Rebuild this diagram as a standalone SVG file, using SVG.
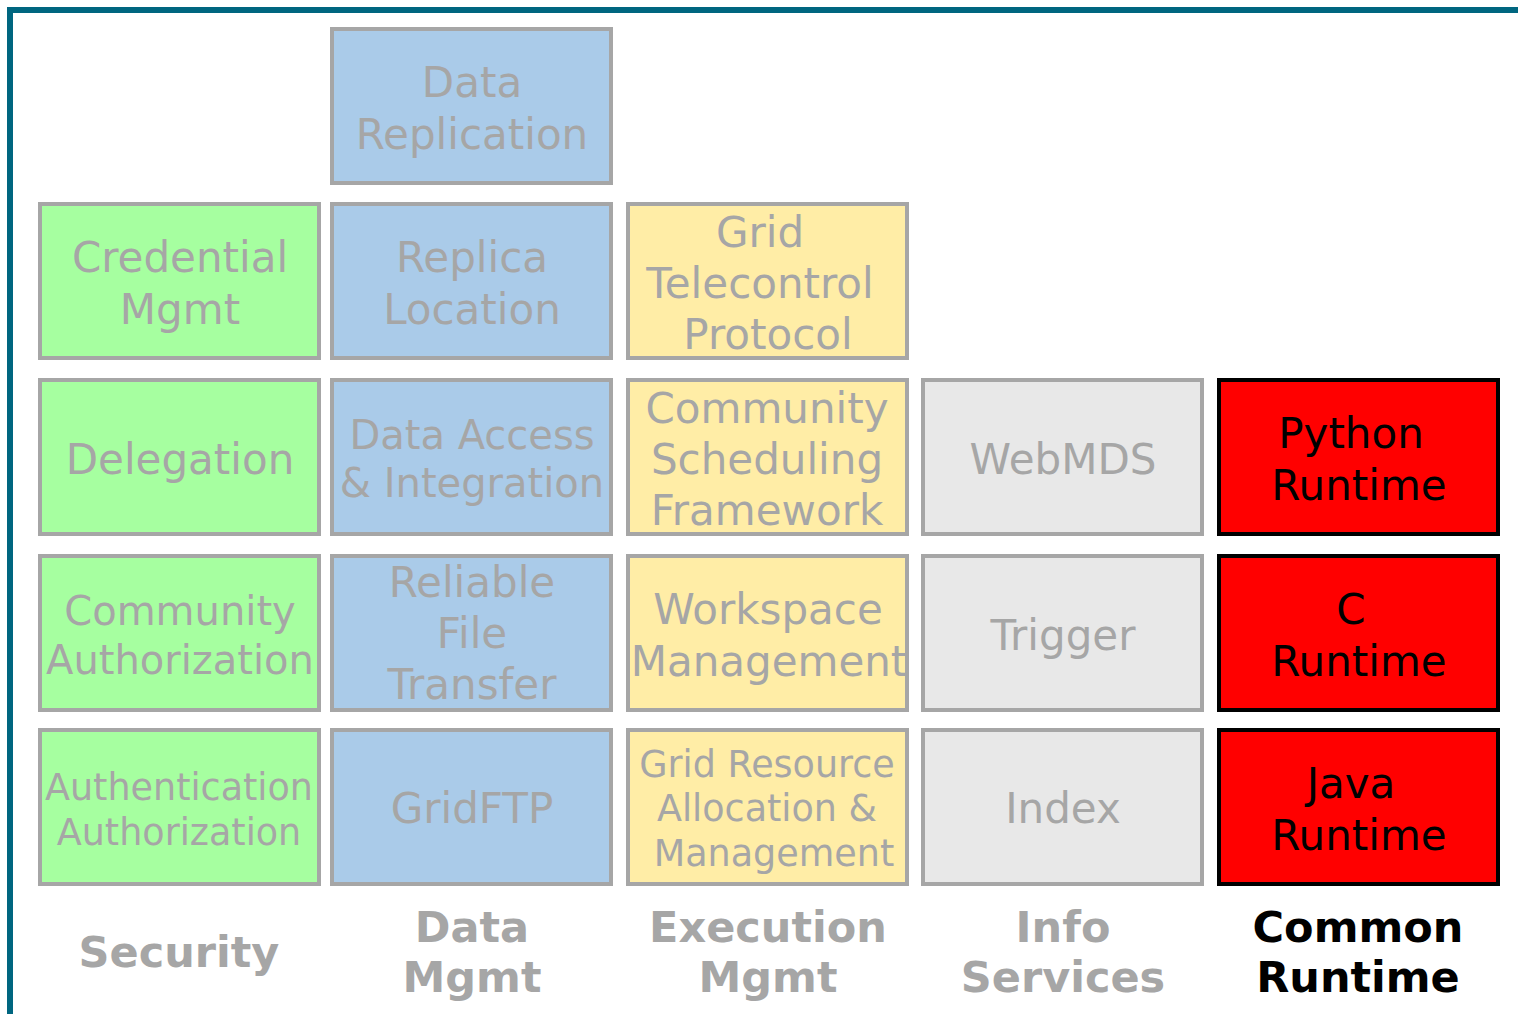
<svg xmlns="http://www.w3.org/2000/svg" width="1518" height="1014" viewBox="0 0 1518 1014">
  <style>
    .box { stroke: #a6a6a6; stroke-width: 4; }
    .sec { fill: #a6ffa0; }
    .dat { fill: #aacbe9; }
    .exe { fill: #ffeda6; }
    .inf { fill: #e8e8e8; }
    .run { fill: #ff0000; stroke: #000000; }
    text { font-family: "DejaVu Sans", Verdana, sans-serif; font-size: 42px; text-anchor: middle; fill: #a6a6a6; }
    .dark { fill: #000000; }
    .cap { font-weight: bold; font-size: 43px; }
    .mid { font-size: 40px; }
    .small { font-size: 36.5px; }
  </style>
  <rect width="1518" height="1014" fill="#ffffff"/>

  <!-- frame along the top and left edges -->
  <path d="M10,1014 V10 H1518" fill="none" stroke="#006680" stroke-width="6"/>

  <!-- Security column -->
  <g id="credential-mgmt">
    <rect class="box sec" x="40" y="204" width="279" height="154"/>
    <text x="180" y="272">Credential</text>
    <text x="180" y="324">Mgmt</text>
  </g>
  <g id="delegation">
    <rect class="box sec" x="40" y="380" width="279" height="154"/>
    <text x="180" y="474">Delegation</text>
  </g>
  <g id="community-authorization">
    <rect class="box sec" x="40" y="556" width="279" height="154"/>
    <text class="mid" x="180" y="625">Community</text>
    <text class="mid" x="180" y="674">Authorization</text>
  </g>
  <g id="authentication-authorization">
    <rect class="box sec" x="40" y="730" width="279" height="154"/>
    <text class="small" x="179" y="800">Authentication</text>
    <text class="small" x="179" y="845">Authorization</text>
  </g>

  <!-- Data Mgmt column -->
  <g id="data-replication">
    <rect class="box dat" x="332" y="29" width="279" height="154"/>
    <text x="472" y="97">Data</text>
    <text x="472" y="149">Replication</text>
  </g>
  <g id="replica-location">
    <rect class="box dat" x="332" y="204" width="279" height="154"/>
    <text x="472" y="272">Replica</text>
    <text x="472" y="324">Location</text>
  </g>
  <g id="data-access-integration">
    <rect class="box dat" x="332" y="380" width="279" height="154"/>
    <text class="mid" x="472" y="449">Data Access</text>
    <text class="mid" x="472" y="497">&amp; Integration</text>
  </g>
  <g id="reliable-file-transfer">
    <rect class="box dat" x="332" y="556" width="279" height="154"/>
    <text x="472" y="597">Reliable</text>
    <text x="472" y="648">File</text>
    <text x="472" y="699">Transfer</text>
  </g>
  <g id="gridftp">
    <rect class="box dat" x="332" y="730" width="279" height="154"/>
    <text x="472" y="823">GridFTP</text>
  </g>

  <!-- Execution Mgmt column -->
  <g id="grid-telecontrol-protocol">
    <rect class="box exe" x="628" y="204" width="279" height="154"/>
    <text x="760" y="247">Grid</text>
    <text x="760" y="298">Telecontrol</text>
    <text x="768" y="349">Protocol</text>
  </g>
  <g id="community-scheduling-framework">
    <rect class="box exe" x="628" y="380" width="279" height="154"/>
    <text x="767" y="423">Community</text>
    <text x="767" y="474">Scheduling</text>
    <text x="767" y="525">Framework</text>
  </g>
  <g id="workspace-management">
    <rect class="box exe" x="628" y="556" width="279" height="154"/>
    <text x="768" y="624">Workspace</text>
    <text x="769" y="676">Management</text>
  </g>
  <g id="grid-resource-allocation">
    <rect class="box exe" x="628" y="730" width="279" height="154"/>
    <text class="small" x="767" y="777">Grid Resource</text>
    <text class="small" x="767" y="821">Allocation &amp;</text>
    <text class="small" x="774" y="866">Management</text>
  </g>

  <!-- Info Services column -->
  <g id="webmds">
    <rect class="box inf" x="923" y="380" width="279" height="154"/>
    <text x="1063" y="474">WebMDS</text>
  </g>
  <g id="trigger">
    <rect class="box inf" x="923" y="556" width="279" height="154"/>
    <text x="1063" y="650">Trigger</text>
  </g>
  <g id="index">
    <rect class="box inf" x="923" y="730" width="279" height="154"/>
    <text x="1063" y="823">Index</text>
  </g>

  <!-- Common Runtime column -->
  <g id="python-runtime">
    <rect class="box run" x="1219" y="380" width="279" height="154"/>
    <text class="dark" x="1351" y="448">Python</text>
    <text class="dark" x="1359" y="500">Runtime</text>
  </g>
  <g id="c-runtime">
    <rect class="box run" x="1219" y="556" width="279" height="154"/>
    <text class="dark" x="1351" y="624">C</text>
    <text class="dark" x="1359" y="676">Runtime</text>
  </g>
  <g id="java-runtime">
    <rect class="box run" x="1219" y="730" width="279" height="154"/>
    <text class="dark" x="1351" y="798">Java</text>
    <text class="dark" x="1359" y="850">Runtime</text>
  </g>

  <!-- column captions -->
  <g id="captions">
    <text class="cap" x="179" y="967">Security</text>
    <text class="cap" x="472" y="942">Data</text>
    <text class="cap" x="472" y="992">Mgmt</text>
    <text class="cap" x="768" y="942">Execution</text>
    <text class="cap" x="768" y="992">Mgmt</text>
    <text class="cap" x="1063" y="942">Info</text>
    <text class="cap" x="1063" y="992">Services</text>
    <text class="cap dark" x="1358" y="942">Common</text>
    <text class="cap dark" x="1358" y="992">Runtime</text>
  </g>

  <!-- no connectors in this diagram -->
  <g id="connectors"/>
</svg>
